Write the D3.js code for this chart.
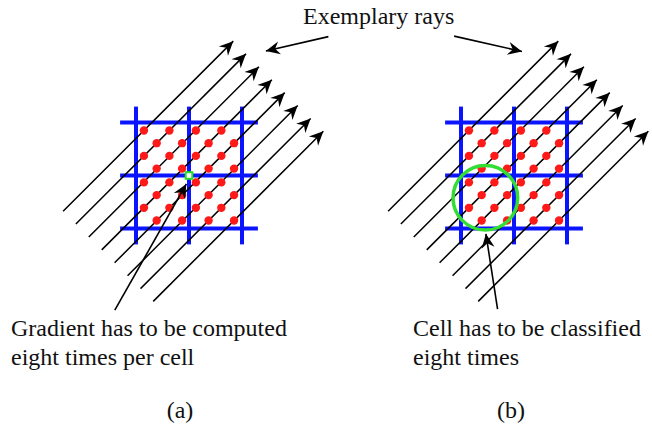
<!DOCTYPE html>
<html>
<head>
<meta charset="utf-8">
<script src="https://cdn.jsdelivr.net/npm/d3@7"></script>
<style>
  body { margin: 0; background: #fff; }
  svg { display: block; }
</style>
</head>
<body>
<svg id="chart"></svg>
<script>
// Grid lines of each panel, in cell units (2x2 cells)
const gridLines = [0, 1, 2];
const gridOverhang = 0.3;
// Sample positions along one axis, in cell units (8 per axis, 4 per cell)
const samplePos = [0.15, 0.39, 0.63, 0.87, 1.13, 1.37, 1.61, 1.85];
// Each ray runs along a diagonal of samples with col + row = s
const raySums = [0, 2, 4, 6, 8, 10, 12, 14];
// Extent of the rays along the diagonal (x - y, cell units)
const rayFrom = -3.05;
const rayTo = 3.37;

// Panels
const panels = ['a', 'b'];
const panelLeft = [136, 461];

// Annotations (cell units of each panel)
const topArrows = [
  { panel: 'a', from: [3.63, -1.62], to: [2.45, -1.35] },
  { panel: 'b', from: [-0.13, -1.63], to: [1.15, -1.34] },
];
const pointerArrows = [
  { panel: 'a', from: [-0.40, 3.54], to: [0.95, 1.16] },
  { panel: 'b', from: [0.69, 3.52], to: [0.47, 2.10] },
];
const markedPoint = [1, 1];          // gradient sample (a)
const markedCell = { c: [0.46, 1.42], r: 0.61 };   // classified cell (b)

const captions = [
  { x: 11, lines: ['Gradient has to be computed', 'eight times per cell'] },
  { x: 413, lines: ['Cell has to be classified', 'eight times'] },
];
const panelLabels = [
  { x: 180, text: '(a)' },
  { x: 511, text: '(b)' },
];

const width = 652;
const height = 425;
const cell = 53;
const serif = '"Liberation Serif", Tinos, "Nimbus Roman", "Nimbus Roman No9 L", FreeSerif, "Noto Serif", "DejaVu Serif", "Noto Serif CJK SC", "Times New Roman", Times, serif';

const svg = d3.select('#chart')
  .attr('width', width)
  .attr('height', height);

// arrowhead
svg.append('defs').append('marker')
  .attr('id', 'head')
  .attr('viewBox', '-15 -7 16 14')
  .attr('refX', 0)
  .attr('refY', 0)
  .attr('markerUnits', 'userSpaceOnUse')
  .attr('markerWidth', 16)
  .attr('markerHeight', 14)
  .attr('orient', 'auto')
  .append('path')
  .attr('d', 'M0,0 L-14,-6.5 L-9.5,0 L-14,6.5 Z')
  .attr('fill', '#000');

const scales = {};
panels.forEach((p, i) => {
  scales[p] = {
    x: d3.scaleLinear().domain([0, 2]).range([panelLeft[i], panelLeft[i] + 2 * cell]),
    y: d3.scaleLinear().domain([0, 2]).range([122.5, 122.5 + 2 * cell]),
  };
});

panels.forEach(p => {
  const { x, y } = scales[p];
  const g = svg.append('g').attr('class', 'panel-' + p);

  // blue grid
  g.selectAll('.vline')
    .data(gridLines)
    .enter()
    .append('line')
    .attr('x1', d => x(d)).attr('x2', d => x(d))
    .attr('y1', y(-gridOverhang)).attr('y2', y(2 + gridOverhang))
    .attr('stroke', '#0a14ff')
    .attr('stroke-width', 4);
  g.selectAll('.hline')
    .data(gridLines)
    .enter()
    .append('line')
    .attr('y1', d => y(d)).attr('y2', d => y(d))
    .attr('x1', x(-gridOverhang)).attr('x2', x(2 + gridOverhang))
    .attr('stroke', '#0a14ff')
    .attr('stroke-width', 4);

  // sample points (checkerboard on the sub grid)
  const dots = [];
  samplePos.forEach((px, c) => {
    samplePos.forEach((py, r) => {
      if ((c + r) % 2 === 0) dots.push({ c, r, px, py });
    });
  });

  // rays
  const rays = raySums.map(s => {
    const on = dots.filter(d => d.c + d.r === s);
    const k = d3.mean(on, d => d.px + d.py);
    return { k };
  });
  g.selectAll('.ray')
    .data(rays)
    .enter()
    .append('line')
    .attr('x1', d => x((d.k + rayFrom) / 2))
    .attr('y1', d => y((d.k - rayFrom) / 2))
    .attr('x2', d => x((d.k + rayTo) / 2))
    .attr('y2', d => y((d.k - rayTo) / 2))
    .attr('stroke', '#000')
    .attr('stroke-width', 1.5)
    .attr('marker-end', 'url(#head)');

  // red dots on top of the rays
  g.selectAll('.dot')
    .data(dots)
    .enter()
    .append('circle')
    .attr('cx', d => x(d.px))
    .attr('cy', d => y(d.py))
    .attr('r', 4.2)
    .attr('fill', '#ff1a1a');
});

// green marks
const sa = scales.a;
svg.append('rect')
  .attr('x', sa.x(markedPoint[0]) - 3.3)
  .attr('y', sa.y(markedPoint[1]) - 3.3)
  .attr('width', 6.6)
  .attr('height', 6.6)
  .attr('fill', '#fff')
  .attr('stroke', '#22e022')
  .attr('stroke-width', 2);

const sb = scales.b;
svg.append('circle')
  .attr('cx', sb.x(markedCell.c[0]))
  .attr('cy', sb.y(markedCell.c[1]))
  .attr('r', markedCell.r * cell)
  .attr('fill', 'none')
  .attr('stroke', '#33dd33')
  .attr('stroke-width', 3.5);

// annotation arrows
svg.selectAll('.note')
  .data(topArrows.concat(pointerArrows))
  .enter()
  .append('line')
  .attr('x1', d => scales[d.panel].x(d.from[0]))
  .attr('y1', d => scales[d.panel].y(d.from[1]))
  .attr('x2', d => scales[d.panel].x(d.to[0]))
  .attr('y2', d => scales[d.panel].y(d.to[1]))
  .attr('stroke', '#000')
  .attr('stroke-width', 1.6)
  .attr('marker-end', 'url(#head)');

// texts
const texts = svg.append('g')
  .attr('font-family', serif)
  .attr('font-size', 24)
  .attr('fill', '#111');

texts.append('text')
  .attr('x', 303)
  .attr('y', 24)
  .text('Exemplary rays');

captions.forEach(cp => {
  texts.append('text')
    .attr('x', cp.x)
    .attr('y', 336)
    .selectAll('tspan')
    .data(cp.lines)
    .enter()
    .append('tspan')
    .attr('x', cp.x)
    .attr('dy', (d, i) => i === 0 ? 0 : 29)
    .text(d => d);
});

texts.selectAll('.plabel')
  .data(panelLabels)
  .enter()
  .append('text')
  .attr('x', d => d.x)
  .attr('y', 418)
  .attr('text-anchor', 'middle')
  .text(d => d.text);
</script>
</body>
</html>
